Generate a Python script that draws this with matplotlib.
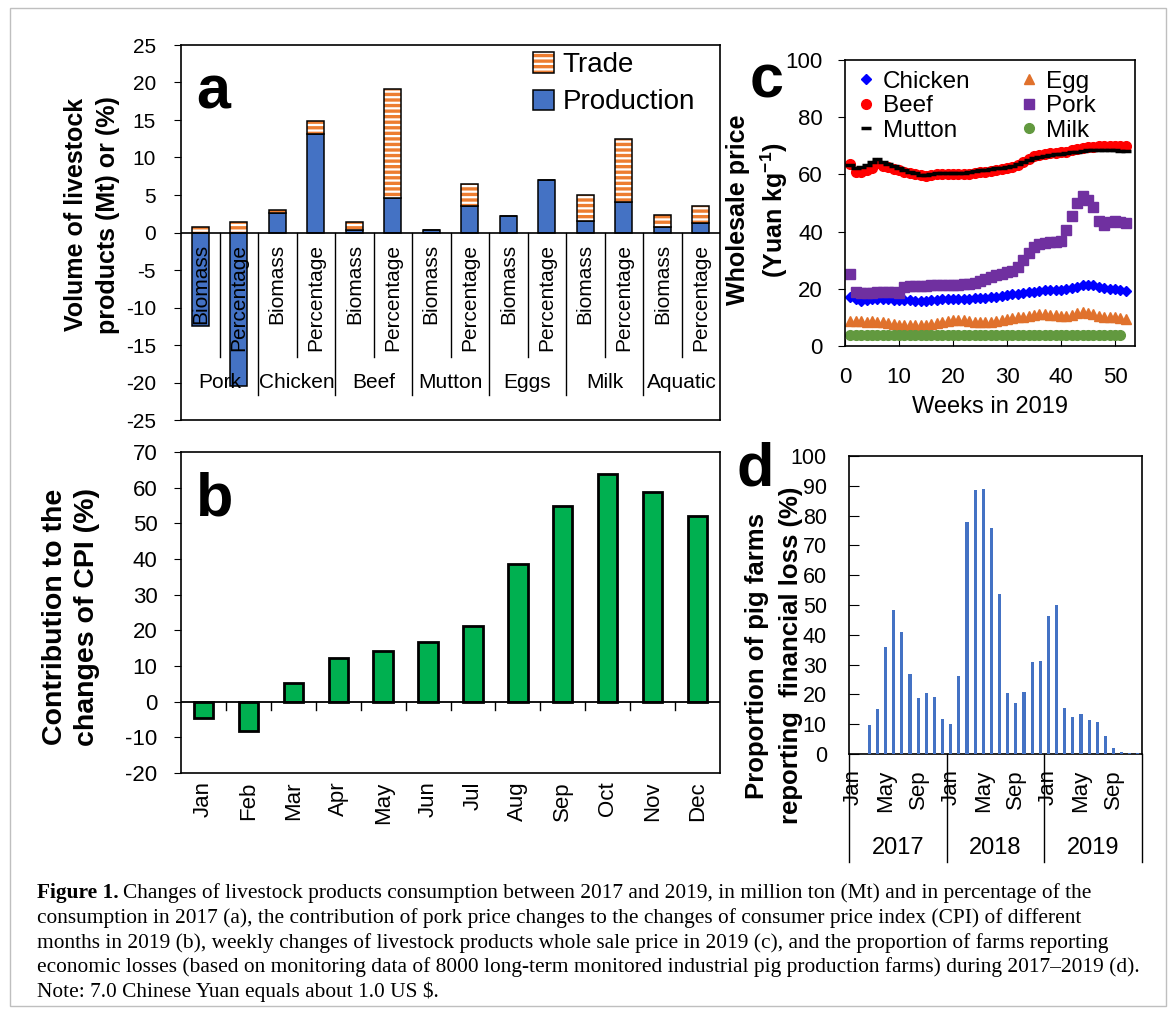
import matplotlib
matplotlib.use("Agg")
import matplotlib.pyplot as plt
import matplotlib.transforms as mtransforms
from matplotlib.patches import Patch, Rectangle
import numpy as np

plt.rcParams['font.family'] = ['Liberation Sans', 'DejaVu Sans']
plt.rcParams['mathtext.fontset'] = 'custom'
plt.rcParams['mathtext.rm'] = 'Liberation Sans'
plt.rcParams['mathtext.bf'] = 'Liberation Sans:bold'
plt.rcParams['hatch.linewidth'] = 1.6
plt.rcParams['axes.linewidth'] = 1.2
plt.rcParams['axes.unicode_minus'] = False

# ---- panel a: consumption change 2017-2019
foods = ["Pork", "Chicken", "Beef", "Mutton", "Eggs", "Milk", "Aquatic"]
measures = ["Biomass", "Percentage"]
production = [-12.4, -20.5, 2.6, 13.1, 0.3, 4.6, 0.3, 3.5, 2.2, 7.0, 1.6, 4.1, 0.8, 1.3]
trade = [0.8, 1.4, 0.4, 1.8, 1.1, 14.5, 0.05, 3.0, 0.0, 0.0, 3.4, 8.3, 1.5, 2.3]

# ---- panel b: pork contribution to CPI changes, 2019
months = ["Jan", "Feb", "Mar", "Apr", "May", "Jun",
          "Jul", "Aug", "Sep", "Oct", "Nov", "Dec"]
cpi_contrib = [-4.7, -8.1, 5.1, 12.3, 14.2, 16.6, 21.1, 38.6, 54.9, 63.9, 58.7, 52.0]

# ---- panel c: weekly wholesale prices 2019 (Yuan/kg)
weeks = list(range(1, 53))
chicken = [17.3, 16.3, 15.9, 16.0, 16.3, 16.5, 16.4, 16.3, 16.2, 16.2, 16.1, 16.0, 15.9,
           15.8, 15.9, 16.1, 16.2, 16.3, 16.4, 16.4, 16.5, 16.6, 16.6, 16.7, 16.7, 16.9,
           17.1, 17.3, 17.6, 17.9, 18.1, 18.3, 18.6, 18.8, 19.0, 19.3, 19.5, 19.6, 19.6,
           19.6, 19.8, 20.3, 20.8, 21.2, 21.5, 21.2, 20.8, 20.4, 20.1, 19.8, 19.5, 19.2]
beef = [63.5, 61.0, 61.0, 61.5, 62.3, 64.0, 63.0, 62.5, 62.0, 61.5, 61.0, 60.5, 60.0,
        59.7, 59.5, 59.8, 60.0, 60.0, 60.1, 60.1, 60.1, 60.2, 60.3, 60.5, 60.8, 61.0,
        61.2, 61.5, 61.8, 62.1, 62.6, 63.3, 64.3, 65.4, 66.3, 66.9, 67.3, 67.5, 67.6,
        67.7, 68.0, 68.5, 68.9, 69.2, 69.5, 69.7, 69.8, 69.9, 70.0, 70.1, 70.1, 70.0]
mutton = [63.3, 62.2, 62.5, 63.2, 64.2, 65.4, 64.5, 63.6, 63.1, 62.4, 61.5, 60.9, 60.4,
          59.8, 59.7, 60.0, 60.4, 60.4, 60.4, 60.4, 60.4, 60.5, 60.7, 61.2, 61.5, 61.7,
          62.0, 62.2, 62.4, 62.6, 63.0, 63.5, 64.2, 65.0, 65.6, 66.1, 66.5, 66.8, 67.0,
          67.2, 67.4, 67.7, 68.0, 68.3, 68.4, 68.5, 68.5, 68.5, 68.5, 68.4, 68.3, 68.1]
egg = [8.6, 8.7, 8.6, 8.5, 8.6, 8.5, 8.3, 8.0, 7.7, 7.5, 7.3, 7.2, 7.2, 7.2, 7.3, 7.6,
       8.0, 8.4, 8.8, 9.1, 9.2, 9.0, 8.7, 8.5, 8.5, 8.4, 8.5, 8.8, 9.2, 9.6, 9.9, 10.1,
       10.3, 10.6, 10.9, 11.1, 11.1, 11.0, 10.8, 10.6, 10.5, 10.8, 11.4, 11.8, 11.6,
       11.1, 10.6, 10.3, 10.2, 10.0, 9.8, 9.4]
pork = [25.3, 19.0, 18.4, 18.4, 18.6, 18.8, 19.0, 19.0, 18.9, 18.7, 20.8, 20.9, 21.0,
        21.0, 21.1, 21.2, 21.2, 21.3, 21.3, 21.4, 21.5, 21.6, 21.8, 22.0, 22.6, 23.3,
        24.0, 24.7, 25.3, 25.7, 26.1, 27.7, 30.1, 32.6, 34.7, 35.6, 36.0, 36.2, 36.4,
        36.8, 40.5, 45.5, 50.0, 52.5, 51.0, 48.7, 43.8, 42.3, 43.5, 43.7, 43.3, 43.1]
milk = [3.8, 3.8, 3.8, 3.8, 3.8, 3.8, 3.8, 3.8, 3.8, 3.8, 3.8, 3.8, 3.8, 3.8, 3.8,
        3.8, 3.8, 3.8, 3.8, 3.8, 3.8, 3.8, 3.8, 3.9, 3.9, 3.9, 3.9, 3.9, 3.9, 3.9,
        3.9, 3.9, 3.9, 3.9, 3.9, 3.9, 3.9, 3.9, 3.9, 3.9, 4.0, 4.0, 4.0, 4.0, 4.0,
        4.0, 4.0, 4.0, 4.0, 4.0, 4.0]

# ---- panel d: share of pig farms reporting loss (%)
years = ["2017", "2018", "2019"]
month_ticks = ["Jan", "May", "Sep"]
loss_2017 = [0, 0, 9.6, 15.2, 36.0, 48.2, 41.1, 26.7, 18.9, 20.4, 19.0, 11.6]
loss_2018 = [10.1, 26.3, 78.0, 88.5, 89.0, 75.8, 53.7, 20.5, 17.0, 20.7, 30.8, 31.2]
loss_2019 = [46.3, 50.0, 15.3, 12.3, 13.3, 11.5, 10.9, 6.0, 2.1, 0.6, 0.2, 0.2]

W, H = 1170, 1021
fig = plt.figure(figsize=(W / 100, H / 100), dpi=100)


def px_axes(l, t, r, b):
    return fig.add_axes([l / W, 1 - b / H, (r - l) / W, (b - t) / H])


ax_a = px_axes(181, 45, 720, 420)
ax_b = px_axes(181, 452, 720, 773)
ax_c = px_axes(845, 60, 1135, 346)
ax_d = px_axes(849, 456, 1142, 754)

# ================= panel a =================
blue = '#4472C4'
orange = '#ED7D31'
xa = np.arange(len(production))
bw = 0.43
ax_a.bar(xa, production, bw, color=blue, edgecolor='black', lw=1.1, zorder=3)
tb = np.maximum(production, 0)
ax_a.bar(xa, trade, bw, bottom=tb, color=orange, edgecolor='white',
         hatch='---', lw=0, zorder=3)
ax_a.bar(xa, trade, bw, bottom=tb, fill=False, edgecolor='black', lw=1.1, zorder=4)
ax_a.axhline(0, color='black', lw=1.2, zorder=4)
ax_a.set_xlim(-0.5, len(production) - 0.5)
ax_a.set_ylim(-25, 25)
ax_a.set_yticks(range(-25, 26, 5))
ax_a.set_xticks([])
ax_a.tick_params(axis='y', direction='out', length=5, labelsize=15, pad=13)

for i in range(len(production)):
    ax_a.text(i, -1.5, measures[i % 2], rotation=90, ha='center', va='top',
              fontsize=15, zorder=6)
for k in range(1, len(production)):
    low = -16.6 if k % 2 == 1 else -21.6
    ax_a.plot([k - 0.5, k - 0.5], [0, low], color='black', lw=1, zorder=2)
for g, food in enumerate(foods):
    ax_a.text(2 * g + 0.5, -20, food, ha='center', va='center', fontsize=15, zorder=6)

h_trade = (Patch(facecolor=orange, edgecolor='white', hatch='---', lw=0),
           Patch(fill=False, edgecolor='black', lw=1.1))
h_prod = Patch(facecolor=blue, edgecolor='black', lw=1.1)
ax_a.legend([h_trade, h_prod], ['Trade', 'Production'], loc='upper right',
            bbox_to_anchor=(0.974, 1.01), frameon=False, fontsize=20,
            handlelength=0.75, handleheight=0.75, handletextpad=0.3,
            labelspacing=0.4, borderaxespad=0)
ax_a.set_ylabel('Volume of livestock\nproducts (Mt) or (%)', fontsize=18,
                fontweight='bold', linespacing=1.4)
ax_a.yaxis.set_label_coords(-0.113, 0.547)

# ================= panel b =================
ax_b.bar(range(12), cpi_contrib, bw, color='#00B050', edgecolor='black', lw=2, zorder=3)
ax_b.axhline(0, color='black', lw=1.3, zorder=4)
ax_b.set_xlim(-0.5, 11.5)
ax_b.set_ylim(-20, 70)
ax_b.set_yticks(range(-20, 71, 10))
ax_b.set_xticks(range(12))
ax_b.set_xticklabels(months, rotation=90, fontsize=16)
ax_b.tick_params(axis='x', length=0, pad=6)
ax_b.tick_params(axis='y', direction='out', length=5, labelsize=16, pad=12)
for k in range(1, 12):
    ax_b.plot([k - 0.5, k - 0.5], [0, -2.4], color='black', lw=1, zorder=4)
ax_b.set_ylabel('Contribution to the\nchanges of CPI (%)', fontsize=20.5,
                fontweight='bold', linespacing=1.33)
ax_b.yaxis.set_label_coords(-0.150, 0.486)

# ================= panel c =================
ax_c.plot(weeks, chicken, 'D', color='#0000FF', ms=5.5, ls='none', label='Chicken')
ax_c.plot(weeks, beef, 'o', color='#FF0000', ms=7, ls='none', label='Beef')
ax_c.plot(weeks, mutton, '_', color='black', ms=7, mew=2.5, ls='none', label='Mutton')
ax_c.plot(weeks, egg, '^', color='#E0712C', ms=7, ls='none', label='Egg')
ax_c.plot(weeks, pork, 's', color='#7030A0', ms=6.5, ls='none', label='Pork')
ax_c.plot(weeks[:len(milk)], milk, 'o', color='#62993F', ms=7, ls='none', label='Milk')
ax_c.set_xlim(0, 53.7)
ax_c.set_ylim(0, 100)
ax_c.set_xticks(range(0, 51, 10))
ax_c.set_yticks(range(0, 101, 20))
ax_c.tick_params(axis='x', direction='in', length=5, labelsize=16, pad=15)
ax_c.tick_params(axis='y', direction='out', length=5, labelsize=16, pad=11)
ax_c.legend(ncol=2, loc='upper left', frameon=False, fontsize=17.5, handlelength=0.8,
            handletextpad=0.3, columnspacing=2.0, labelspacing=0.1,
            borderaxespad=0.05, markerscale=1.0)
ax_c.set_xlabel('Weeks in 2019', fontsize=17, labelpad=6)
ax_c.set_ylabel('Wholesale price\n(Yuan kg$^{\\mathbf{-1}}$)', fontsize=18,
                fontweight='bold', linespacing=1.35)
ax_c.yaxis.set_label_coords(-0.19, 0.476)

# ================= panel d =================
loss = loss_2017 + loss_2018 + loss_2019
ax_d.bar(range(len(loss)), loss, 0.38, color=blue, zorder=3)
ax_d.set_xlim(-0.5, len(loss) - 0.5)
ax_d.set_ylim(0, 100)
ax_d.set_yticks(range(0, 101, 10))
ax_d.tick_params(axis='y', direction='in', length=7, labelsize=15.5, pad=16)
ax_d.set_xticks(range(0, len(loss), 4))
ax_d.set_xticklabels(month_ticks * len(years), rotation=90, fontsize=16)
ax_d.tick_params(axis='x', length=0, pad=11)
blend = mtransforms.blended_transform_factory(ax_d.transData, ax_d.transAxes)
for i, yr in enumerate(years):
    ax_d.text(12 * i + 5.5, -0.315, yr, transform=blend, ha='center', va='center',
              fontsize=17)
for i in range(len(years) + 1):
    ax_d.plot([12 * i - 0.5] * 2, [0, -0.362], transform=blend, color='black',
              lw=1, clip_on=False)
# two-line y label, one text per line
ax_d.text(-0.314, 0.33, 'Proportion of pig farms', transform=ax_d.transAxes,
          rotation=90, ha='center', va='center', fontsize=18.5, fontweight='bold')
ax_d.text(-0.198, 0.33, 'reporting  financial loss (%)', transform=ax_d.transAxes,
          rotation=90, ha='center', va='center', fontsize=18.5, fontweight='bold')

# panel letters
for letter, (px, py) in zip('abcd', [(213, 93), (215, 500), (767, 82), (755, 470)]):
    fig.text(px / W, 1 - py / H, letter, fontsize=44, fontweight='bold',
             ha='center', va='center')

# caption
cap_lines = [
    "Changes of livestock products consumption between 2017 and 2019, in million ton (Mt) and in percentage of the",
    "consumption in 2017 (a), the contribution of pork price changes to the changes of consumer price index (CPI) of different",
    "months in 2019 (b), weekly changes of livestock products whole sale price in 2019 (c), and the proportion of farms reporting",
    "economic losses (based on monitoring data of 8000 long-term monitored industrial pig production farms) during 2017\u20132019 (d).",
    "Note: 7.0 Chinese Yuan equals about 1.0 US $.",
]
cap_y = [893, 918, 943, 967, 992]
serif = ['Liberation Serif', 'DejaVu Serif']
cap_fs = 15.4
t_bold = fig.text(37 / W, 1 - cap_y[0] / H, "Figure 1.", family=serif, fontsize=cap_fs,
                  fontweight='bold', va='center')
fig.canvas.draw()
bb = t_bold.get_window_extent(fig.canvas.get_renderer())
fig.text((bb.x1 + 4) / W, 1 - cap_y[0] / H, cap_lines[0], family=serif, fontsize=cap_fs,
         va='center')
for line, y in zip(cap_lines[1:], cap_y[1:]):
    fig.text(37 / W, 1 - y / H, line, family=serif, fontsize=cap_fs, va='center')

fig.patches.append(Rectangle((10 / W, 1 - 1006 / H), 1156 / W, 998 / H,
                             transform=fig.transFigure, fill=False,
                             edgecolor='#BFBFBF', lw=1))

fig.savefig('out.png', dpi=100)
